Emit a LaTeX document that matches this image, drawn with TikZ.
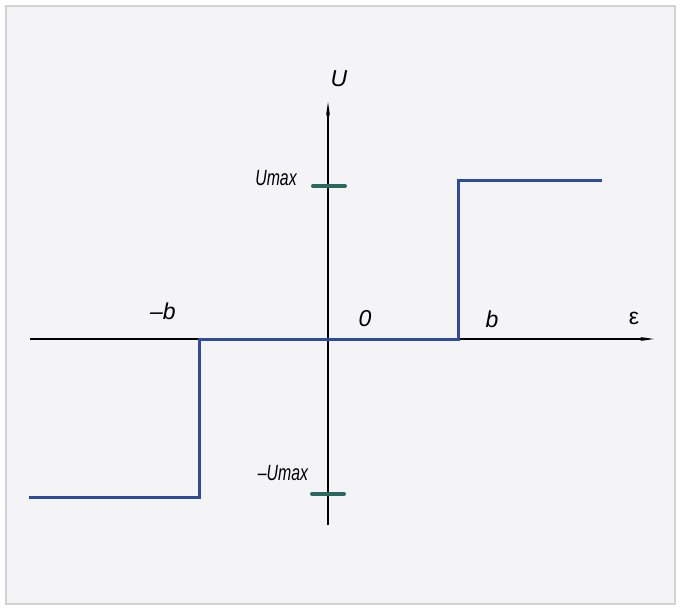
\documentclass[tikz,border=0pt]{standalone}
\usepackage{fontspec}
\setmainfont{Liberation Sans}
\usetikzlibrary{arrows.meta}
\definecolor{bgc}{HTML}{F4F4F7}
\definecolor{framec}{HTML}{D2D2D4}
\definecolor{curvec}{HTML}{2F4C9C}
\definecolor{tickc}{HTML}{2A6A5E}
\tikzset{
  axis/.style={line width=1.3pt, black, -{Stealth[length=14pt,width=4pt]}},
  curve/.style={line width=3pt, curvec, line join=miter},
  tickmark/.style={line width=4pt, tickc, line cap=round},
  lbl/.style={font=\itshape\fontsize{23}{23}\selectfont, inner sep=0pt},
  lblc/.style={font=\itshape\fontsize{22}{22}\selectfont, inner sep=0pt, xscale=0.72}
}
\begin{document}
\begin{tikzpicture}[x=1pt,y=-1pt]
\useasboundingbox (0,0) rectangle (682,610);
\fill[white] (0,0) rectangle (682,610);
\draw[framec, line width=2pt, fill=bgc] (6,6) rectangle (675,604);
% axes
\coordinate (xs) at (30,339);
\coordinate (xe) at (654,339);
\coordinate (ys) at (328,525);
\coordinate (ye) at (328,102);
\draw[axis] (xs) -- (xe);
\draw[axis] (ys) -- (ye);
% curve
\coordinate (c1) at (29,497);
\coordinate (c2) at (199,497);
\coordinate (c3) at (199,339);
\coordinate (c4) at (458,339);
\coordinate (c5) at (458,180);
\coordinate (c6) at (602,180);
\draw[curve] (c1) -- (c2) -- (c3) -- (c4) -- (c5) -- (c6);
% ticks
\coordinate (t1a) at (313,186);
\coordinate (t1b) at (345,186);
\coordinate (t2a) at (312,494);
\coordinate (t2b) at (344,494);
\draw[tickmark] (t1a) -- (t1b);
\draw[tickmark] (t2a) -- (t2b);
% labels
\node[lbl] (lU) at (339,79) {U};
\node[lblc] (lUmax) at (276,178) {Umax};
\node[lblc] (lmUmax) at (283,473) {–Umax};
\node[lbl] (lmb) at (163,311) {–b};
\node[lbl] (l0) at (365,319) {0};
\node[lbl] (lb) at (492,319) {b};
\node[lbl, font=\fontsize{23}{23}\selectfont] (leps) at (634,318) {ε};
\end{tikzpicture}
\end{document}
